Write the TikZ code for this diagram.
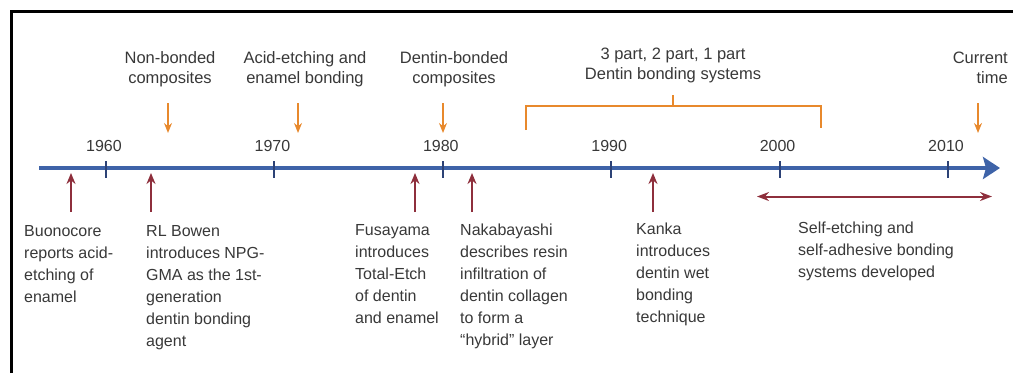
\documentclass[tikz,border=0pt]{standalone}
\usepackage{fontspec}
\setmainfont{Liberation Sans}
\usetikzlibrary{arrows.meta}

\definecolor{axisblue}{HTML}{3E63A8}
\definecolor{tickblue}{HTML}{2C4276}
\definecolor{eventred}{HTML}{8E2F3C}
\definecolor{eraorange}{HTML}{E8892C}
\definecolor{textgray}{HTML}{383838}

\begin{document}
\begin{tikzpicture}[x=1pt, y=-1pt,
    toplabel/.style={align=center, inner sep=0pt, text=textgray, font=\fontsize{16.5}{20}\selectfont},
    event/.style={align=left, anchor=north west, inner sep=0pt, text=textgray, font=\fontsize{16}{22}\selectfont},
    yearlabel/.style={inner sep=0pt, text=textgray, font=\fontsize{16}{19}\selectfont},
    redarrow/.style={eventred, line width=2.2pt, -{Stealth[length=11pt,width=9pt]}},
    orangearrow/.style={eraorange, line width=2pt, -{Stealth[length=10pt,width=8pt]}},
  ]
    \useasboundingbox (0,0) rectangle (1018,373);

    % frame
    \draw[line width=3pt] (11,373) -- (11,11) -- (1013,11);

    % time axis
    \coordinate (start) at (39,168);
    \coordinate (now) at (1000,168);
    \draw[axisblue, line width=3.5pt, -{Stealth[length=17pt,width=22pt,inset=3pt]}] (start) -- (now);
    \foreach \yr [count=\i from 0] in {1960,1970,1980,1990,2000,2010} {
        \pgfmathsetmacro{\xx}{106+168.4*\i}
        \draw[tickblue, line width=2pt] (\xx,161) -- (\xx,178);
        \node[yearlabel] (y\yr) at (\xx-2,146) {\yr};
    }

    % events below the axis
    \node[event] (buono) at (24,225) {Buonocore\\reports acid-\\etching of\\enamel};
    \node[event] (bowen) at (146,225) {RL Bowen\\introduces NPG-\\GMA as the 1st-\\generation\\dentin bonding\\agent};
    \node[event] (fusa) at (355,224) {Fusayama\\introduces\\Total-Etch\\of dentin\\and enamel};
    \node[event] (naka) at (460,224) {Nakabayashi\\describes resin\\infiltration of\\dentin collagen\\to form a\\``hybrid'' layer};
    \node[event] (kanka) at (636,223) {Kanka\\introduces\\dentin wet\\bonding\\technique};
    \node[event] (selfetch) at (798,222) {Self-etching and\\self-adhesive bonding\\systems developed};

    \coordinate (buonoT) at (71,212);   \coordinate (buonoH) at (71,173);
    \coordinate (bowenT) at (151,212);  \coordinate (bowenH) at (151,173);
    \coordinate (fusaT) at (415,212);   \coordinate (fusaH) at (415,173);
    \coordinate (nakaT) at (472,212);   \coordinate (nakaH) at (472,173);
    \coordinate (kankaT) at (653,212);  \coordinate (kankaH) at (653,173);
    \draw[redarrow] (buonoT) -- (buonoH);
    \draw[redarrow] (bowenT) -- (bowenH);
    \draw[redarrow] (fusaT) -- (fusaH);
    \draw[redarrow] (nakaT) -- (nakaH);
    \draw[redarrow] (kankaT) -- (kankaH);

    \coordinate (selfL) at (757,196.5);
    \coordinate (selfR) at (992,196.5);
    \draw[eventred, line width=2pt, {Stealth[length=12pt,width=9pt]}-{Stealth[length=12pt,width=9pt]}] (selfL) -- (selfR);

    % eras above the axis
    \node[toplabel] (nonbond) at (170,69) {Non-bonded\\composites};
    \node[toplabel] (acidetch) at (305,69) {Acid-etching and\\enamel bonding};
    \node[toplabel] (dentbond) at (454,69) {Dentin-bonded\\composites};
    \node[toplabel] (systems) at (673,65) {3 part, 2 part, 1 part\\Dentin bonding systems};
    \node[toplabel, align=right, anchor=east] (current) at (1008,68) {Current\\time};

    \coordinate (nonbondT) at (168,103);  \coordinate (nonbondH) at (168,133);
    \coordinate (acidetchT) at (298,103); \coordinate (acidetchH) at (298,133);
    \coordinate (dentbondT) at (443,103); \coordinate (dentbondH) at (443,133);
    \coordinate (currentT) at (978,103);  \coordinate (currentH) at (978,133);
    \draw[orangearrow] (nonbondT) -- (nonbondH);
    \draw[orangearrow] (acidetchT) -- (acidetchH);
    \draw[orangearrow] (dentbondT) -- (dentbondH);
    \draw[orangearrow] (currentT) -- (currentH);

    % bracket for the bonding systems
    \coordinate (sysL) at (526,130);
    \coordinate (sysR) at (821,128);
    \coordinate (sysMid) at (673,106);
    \coordinate (sysTop) at (673,95);
    \draw[eraorange, line width=2pt] (sysL) |- (sysMid) -| (sysR);
    \draw[eraorange, line width=2pt] (sysMid) -- (sysTop);
\end{tikzpicture}
\end{document}
